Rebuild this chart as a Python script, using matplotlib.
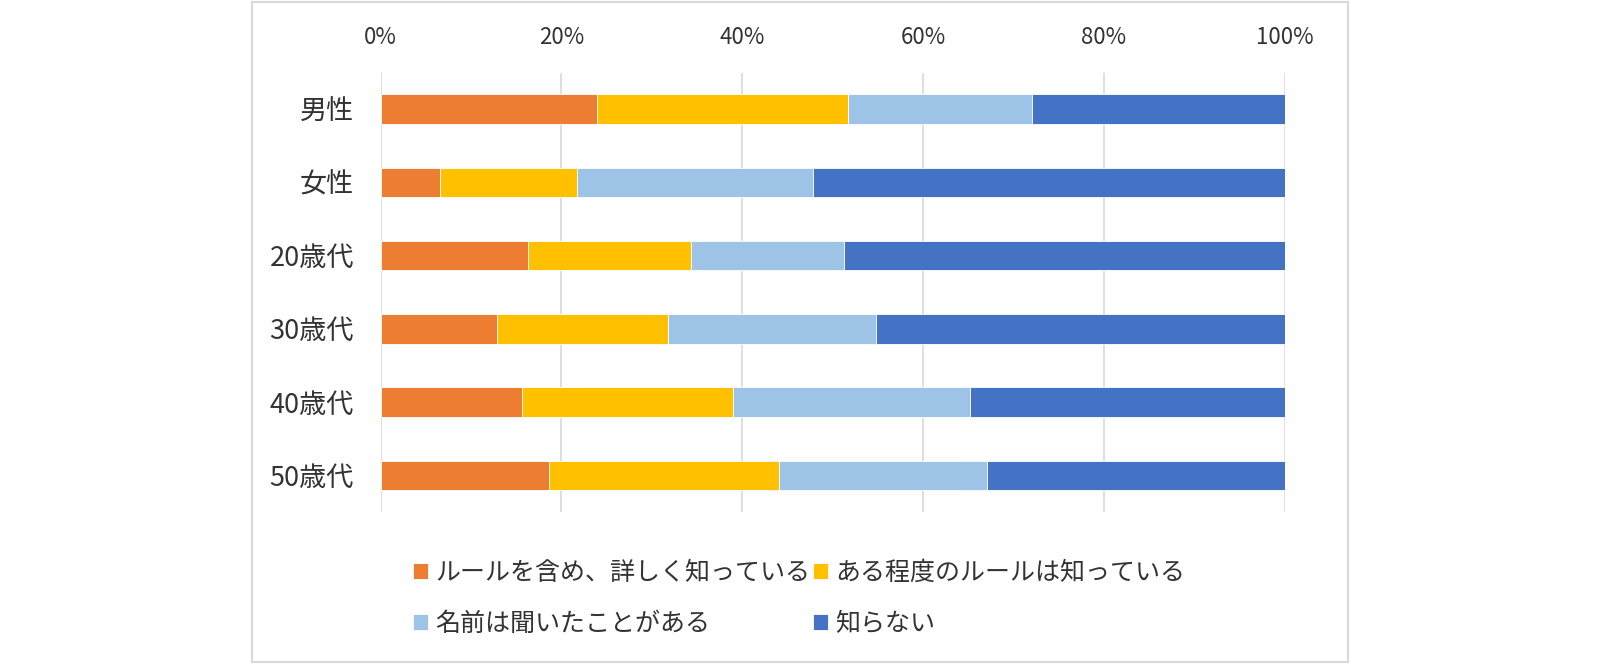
import matplotlib.pyplot as plt
from matplotlib.patches import Rectangle

plt.rcParams['font.family'] = ['Noto Sans CJK JP', 'DejaVu Sans']

# Data (percent of respondents)
categories = ["男性", "女性", "20歳代", "30歳代", "40歳代", "50歳代"]
series_names = ["ルールを含め、詳しく知っている", "ある程度のルールは知っている",
                "名前は聞いたことがある", "知らない"]
detailed = [23.9, 6.6, 16.3, 12.9, 15.7, 18.6]
somewhat = [27.8, 15.1, 18.0, 18.9, 23.3, 25.5]
heard = [20.4, 26.1, 17.0, 23.0, 26.2, 23.0]
unknown = [27.9, 52.2, 48.7, 45.2, 34.8, 32.9]
colors = ["#ED7D31", "#FFC000", "#9DC3E6", "#4472C4"]

text_color = "#333333"
grid_color = "#D9D9D9"

fig = plt.figure(figsize=(16, 6.64), dpi=100)
W, H = 1600, 664
ax = fig.add_axes([380.5 / W, 1 - 512 / H, (1284.5 - 380.5) / W, (512 - 72.5) / H])

# outer chart frame
fig.patches.append(Rectangle((252 / W, 1 - 662 / H), (1348 - 252) / W, (662 - 2) / H,
                             transform=fig.transFigure, fill=False,
                             edgecolor=grid_color, linewidth=1.5))

ypos = list(range(len(categories)))
left = [0] * len(categories)
handles = []
for name, vals, col in zip(series_names, [detailed, somewhat, heard, unknown], colors):
    b = ax.barh(ypos, vals, left=left, height=0.4, color=col, label=name,
                edgecolor="white", linewidth=0.6, zorder=3)
    handles.append(b)
    left = [l + v for l, v in zip(left, vals)]

ax.set_xlim(0, 100)
ax.set_ylim(5.5, -0.5)
ax.set_xticks([0, 20, 40, 60, 80, 100])
ax.set_xticklabels([f"{t}%" for t in [0, 20, 40, 60, 80, 100]])
ax.set_yticks(ypos)
ax.set_yticklabels(categories)
ax.xaxis.tick_top()
ax.tick_params(axis="x", length=0, pad=17, labelsize=16, colors=text_color)
ax.tick_params(axis="y", length=0, pad=19, labelsize=19.5, colors=text_color)
ax.grid(axis="x", color=grid_color, linewidth=1.2, zorder=0)
for s in ax.spines.values():
    s.set_visible(False)

# reorder so legend fills row by row
order = [0, 2, 1, 3]
leg = fig.legend([handles[i] for i in order], [series_names[i] for i in order],
                 ncol=2, loc="upper left", bbox_to_anchor=(413 / W, 1 - 560 / H),
                 frameon=False, fontsize=18, handlelength=0.6, handleheight=0.6,
                 handletextpad=0.3, columnspacing=0.1, labelspacing=1.0,
                 borderpad=0, borderaxespad=0)
for t in leg.get_texts():
    t.set_color(text_color)

fig.savefig("out.png", dpi=100)
